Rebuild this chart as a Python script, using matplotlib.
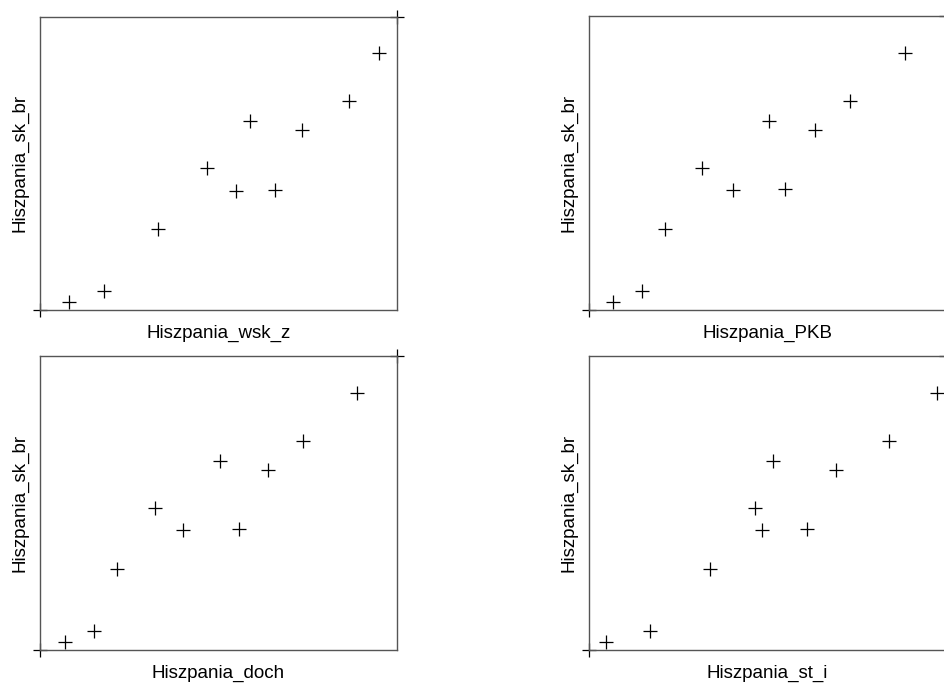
import numpy as np
import matplotlib.pyplot as plt

plt.rcParams['font.family'] = ['Liberation Sans', 'DejaVu Sans']

# values (relative scale, 0..100)
sk_br = [0, 2.8, 6.6, 27.7, 48.4, 40.7, 64.3, 41.0, 61.3, 71.1, 87.5, 100]
wsk_z = [0, 8.2, 18.0, 33.1, 46.9, 54.9, 58.9, 65.8, 73.3, 86.5, 94.7, 100]
pkb = [0, 6.9, 15.0, 21.5, 31.7, 40.3, 50.3, 55.0, 63.2, 73.0, 88.5, 100]
doch = [0, 7.1, 15.3, 21.7, 32.3, 40.0, 50.3, 55.6, 63.7, 73.5, 88.7, 100]
st_i = [0, 4.8, 17.2, 33.9, 46.4, 48.4, 51.5, 60.9, 69.2, 83.9, 97.3, 100]

panels = [
    (wsk_z, "Hiszpania_wsk_z", (39.5, 16.5, 310)),
    (pkb, "Hiszpania_PKB", (588.5, 16.0, 310)),
    (doch, "Hiszpania_doch", (39.5, 356, 650)),
    (st_i, "Hiszpania_st_i", (588.5, 356, 650)),
]

W, H = 944, 683
fig = plt.figure(figsize=(W / 100, H / 100), dpi=100)

for xs, label, (left, top, bottom) in panels:
    ax = fig.add_axes([left / W, (H - bottom) / H, 358 / W, (bottom - top) / H])
    ax.plot(xs, sk_br, linestyle="none", marker="+", color="black",
            markersize=9.5, markeredgewidth=0.9, clip_on=False)
    ax.set_xlim(min(xs), max(xs))
    ax.set_ylim(min(sk_br), max(sk_br))
    ax.set_xticks([])
    ax.set_yticks([])
    for s in ax.spines.values():
        s.set_color("#555555")
        s.set_linewidth(1.0)
    ax.set_xlabel(label, fontsize=13.5, labelpad=11)
    ax.set_ylabel("Hiszpania_sk_br", fontsize=13.5, labelpad=8)

fig.savefig("out.png", dpi=100)
